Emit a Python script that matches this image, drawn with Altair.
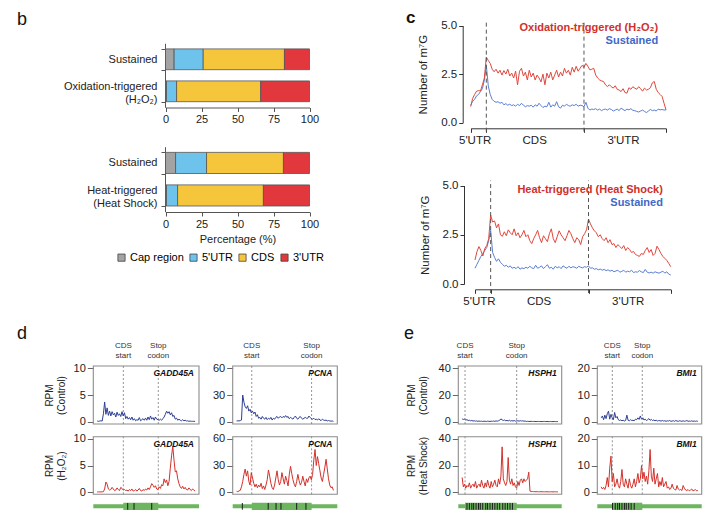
import altair as alt
import pandas as pd

FONT = "Liberation Sans"
W, H = 713, 525

# ---------------- panel b : distribution of m7G sites (%) ----------------
regions = ["Cap region", "5'UTR", "CDS", "3'UTR"]
region_colors = ["#a3a3a3", "#6ec3ec", "#f5c63b", "#e2373d"]

b_top_groups = ["Sustained", "Oxidation-triggered\n(H₂O₂)"]
b_top_sustained = [6.0, 20.2, 56.4, 17.4]
b_top_oxidation = [0.7, 7.0, 58.4, 33.9]

b_bot_groups = ["Sustained", "Heat-triggered\n(Heat Shock)"]
b_bot_sustained = [7.0, 21.5, 53.4, 18.1]
b_bot_heat = [0.7, 7.7, 59.6, 32.0]

# ---------------- panel c : metagene profiles ----------------
meta_bins = list(range(0, 201, 2))
meta_bounds = [16, 116]
meta_region_labels = ["5'UTR", "CDS", "3'UTR"]
meta_region_centers = [4, 65, 156]

c_top_oxidation = [
    0.83, 1.25, 1.45, 1.62, 1.65, 1.63, 1.95, 2.30, 3.38, 3.20,
    3.05, 2.75, 2.62, 2.75, 2.55, 2.70, 2.45, 2.68, 2.50, 2.75,
    2.40, 2.55, 2.30, 2.65, 1.95, 2.65, 2.80, 2.40, 2.60, 2.20,
    2.70, 2.35, 2.55, 2.20, 2.45, 2.30, 2.10, 2.50, 1.95, 2.55,
    2.30, 2.60, 2.20, 2.45, 2.70, 2.35, 2.60, 2.40, 2.80, 2.55,
    2.70, 2.45, 2.85, 2.60, 2.90, 2.65, 2.80, 2.95, 2.85, 3.05,
    2.90, 2.72, 2.75, 2.80, 2.45, 2.30, 2.20, 2.15, 2.12, 1.95,
    1.86, 1.95, 1.85, 1.78, 1.90, 1.72, 1.68, 1.60, 1.75, 1.55,
    1.52, 1.80, 1.72, 1.85, 1.78, 1.72, 1.85, 1.75, 1.62, 1.78,
    1.68, 1.72, 1.80, 2.05, 2.12, 1.72, 1.55, 1.45, 1.35, 1.00,
    0.66]
c_top_sustained = [
    0.90, 1.10, 1.20, 1.38, 1.45, 1.60, 1.75, 2.20, 2.95, 1.90,
    1.45, 1.20, 1.10, 1.05, 1.08, 1.00, 1.05, 0.92, 0.98, 0.90,
    0.95, 0.88, 0.92, 0.85, 0.95, 0.88, 1.00, 0.90, 0.82, 0.88,
    0.85, 0.90, 0.80, 0.92, 0.85, 1.00, 0.88, 0.78, 0.85, 0.82,
    1.05, 0.80, 0.92, 0.85, 1.08, 0.82, 0.75, 0.90, 0.85, 0.95,
    0.88, 0.85, 0.92, 0.88, 0.95, 0.85, 0.90, 0.88, 0.82, 1.05,
    0.75, 0.65, 0.70, 0.68, 0.72, 0.65, 0.70, 0.62, 0.68, 0.70,
    0.65, 0.72, 0.68, 0.60, 0.65, 0.70, 0.62, 0.75, 0.68, 0.62,
    0.70, 0.66, 0.72, 0.64, 0.62, 0.58, 0.55, 0.60, 0.65, 0.58,
    0.52, 0.60, 0.68, 0.62, 0.65, 0.60, 0.70, 0.66, 0.68, 0.65,
    0.66]
c_bot_heat = [
    1.22, 1.64, 1.90, 1.70, 1.42, 1.80, 1.95, 2.30, 3.50, 3.15,
    3.20, 2.85, 3.05, 2.50, 2.42, 2.65, 2.45, 2.75, 2.60, 2.50,
    2.80, 2.45, 2.60, 2.35, 2.50, 2.72, 2.40, 2.50, 2.20, 2.05,
    2.30, 2.50, 2.72, 2.35, 2.10, 2.45, 2.30, 2.15, 2.55, 2.80,
    2.30, 2.10, 2.40, 2.70, 2.50, 2.35, 2.20, 2.45, 2.72, 2.55,
    2.30, 2.10, 2.35, 2.25, 2.00, 2.40, 2.55, 2.75, 3.30, 3.05,
    2.85, 2.70, 2.60, 2.40, 2.50, 2.30, 2.20, 2.35, 2.10, 2.25,
    2.00, 2.05, 1.85, 2.00, 1.90, 1.80, 1.95, 1.70, 1.85, 1.75,
    1.60, 1.65, 1.50, 1.45, 1.40, 1.55, 1.50, 1.70, 1.85, 1.60,
    1.75, 1.45, 1.55, 1.92, 1.75, 1.55, 1.40, 1.30, 1.20, 1.05,
    0.88]
c_bot_sustained = [
    0.80, 1.00, 1.20, 1.40, 1.55, 1.70, 1.85, 2.20, 2.72, 1.60,
    1.35, 1.15, 1.28, 1.10, 1.00, 0.90, 0.95, 0.85, 0.92, 0.80,
    0.85, 0.78, 0.88, 0.75, 0.82, 0.78, 0.85, 0.80, 0.90, 0.82,
    0.78, 0.95, 0.80, 0.85, 0.92, 0.78, 0.88, 0.98, 0.80, 0.85,
    0.75, 0.90, 0.82, 0.88, 0.78, 0.92, 0.85, 0.80, 0.90, 0.82,
    0.88, 0.85, 0.80, 0.90, 0.85, 0.82, 0.88, 0.85, 0.92, 0.80,
    0.82, 0.75, 0.78, 0.72, 0.76, 0.70, 0.74, 0.68, 0.72, 0.65,
    0.70, 0.62, 0.66, 0.70, 0.60, 0.64, 0.70, 0.60, 0.65, 0.62,
    0.70, 0.58, 0.62, 0.60, 0.68, 0.62, 0.58, 0.74, 0.60, 0.56,
    0.60, 0.55, 0.62, 0.58, 0.55, 0.60, 0.65, 0.55, 0.62, 0.50,
    0.46]

# ---------------- panels d / e : per-gene read coverage (RPM) ----------------
track_pos = list(range(80))
track_xdom = [-3.16, 82.16]

gadd45a_control = [
    0.15, 0.10, 0.15, 0.20, 0.15, 1.50, 3.70, 1.40, 2.60, 1.20,
    2.00, 1.10, 1.90, 1.30, 1.60, 0.90, 1.80, 1.20, 1.50, 1.00,
    1.90, 1.10, 1.70, 0.60, 1.00, 0.50, 0.80, 0.40, 0.90, 0.30,
    0.60, 0.20, 0.40, 0.30, 0.80, 0.20, 0.40, 0.60, 0.30, 0.70,
    0.30, 0.90, 0.40, 1.10, 0.50, 0.80, 0.30, 0.90, 0.50, 0.40,
    0.30, 0.50, 0.30, 0.60, 0.90, 1.40, 2.00, 1.60, 1.90, 1.30,
    1.70, 1.00, 1.20, 0.50, 0.70, 0.30, 0.50, 0.30, 0.20, 0.40,
    0.20, 0.30, 0.15, 0.20, 0.10, 0.15, 0.10, 0.10, 0.10, 0.10]
gadd45a_h2o2 = [
    0.05, 0.05, 0.05, 0.05, 0.05, 0.10, 0.60, 1.90, 1.50, 0.60,
    0.40, 0.50, 0.90, 0.60, 0.30, 0.40, 0.80, 0.50, 0.30, 0.90,
    0.70, 0.40, 0.50, 0.30, 0.40, 0.20, 0.50, 0.30, 0.60, 0.20,
    0.30, 0.50, 0.20, 0.40, 0.70, 0.30, 0.20, 0.50, 0.30, 0.60,
    0.40, 0.80, 0.50, 1.00, 1.60, 1.30, 0.90, 1.20, 0.60, 0.50,
    1.00, 0.70, 1.40, 1.20, 2.50, 1.80, 2.30, 1.20, 2.00, 4.50,
    6.80, 8.60, 6.00, 3.80, 4.00, 2.50, 1.60, 1.00, 0.70, 1.10,
    0.60, 0.90, 0.50, 0.40, 0.80, 0.50, 0.30, 0.60, 0.40, 0.20]
pcna_control = [
    1.0, 1.2, 1.0, 1.5, 2.0, 30, 22, 17, 15, 18,
    12, 14, 10, 12, 9, 11, 6, 8, 4, 5,
    3, 6, 4, 3, 5, 2.5, 4, 3, 5, 2,
    4, 3, 5, 6, 4, 5.5, 6, 4.5, 6, 5,
    7, 5, 6, 3.5, 5, 4, 3, 5, 6.5, 4,
    3, 5, 6, 4, 3, 4, 5, 4, 4, 6.5,
    5, 3.5, 3, 4, 2.5, 3, 2, 3.5, 2, 1.5,
    3, 2, 1.5, 2, 1, 1.5, 1, 0.8, 1, 0.5]
pcna_h2o2 = [
    1, 0.5, 1.5, 2, 6, 12, 20, 26, 18, 24,
    12, 8, 22, 16, 10, 6, 9, 5, 8, 6,
    10, 4, 7, 3, 8, 14, 25, 18, 10, 5,
    3, 8, 16, 24, 14, 8, 12, 22, 15, 9,
    18, 13, 7, 20, 29, 21, 14, 9, 6, 12,
    20, 13, 8, 11, 18, 12, 7, 15, 11, 16,
    18, 14, 20, 36, 48, 30, 40, 32, 24, 16,
    12, 20, 28, 37, 26, 15, 8, 5, 6, 2]
hsph1_control = [
    2.2, 1.8, 2.0, 1.4, 1.6, 1.0, 1.2, 0.8, 1.0, 0.6,
    0.8, 0.5, 0.7, 0.4, 0.6, 0.4, 0.5, 0.3, 0.5, 0.4,
    0.3, 0.5, 0.4, 0.3, 0.5, 0.4, 0.6, 0.4, 0.7, 0.5,
    0.8, 1.2, 2.2, 1.5, 1.0, 1.4, 0.8, 1.1, 0.7, 1.2,
    0.6, 0.9, 0.6, 1.0, 0.5, 0.7, 0.8, 0.5, 0.9, 0.6,
    0.8, 0.5, 0.6, 0.3, 0.4, 0.3, 0.3, 0.4, 0.3, 0.3,
    0.3, 0.2, 0.3, 0.3, 0.2, 0.3, 0.2, 0.3, 0.3, 0.2,
    0.3, 0.2, 0.2, 0.3, 0.2, 0.2, 0.3, 0.2, 0.2, 0.2]
hsph1_heat = [
    11, 4, 6, 3, 5, 4, 7, 3, 5, 6,
    4, 8, 3, 5, 6, 4, 9, 5, 3, 7,
    4, 9, 5, 3, 8, 4, 6, 9, 5, 4,
    10, 6, 12, 34, 10, 7, 5, 8, 26, 9,
    6, 10, 5, 7, 4, 3, 8, 5, 9, 10,
    7, 10, 8, 9, 10, 15, 0.8, 0.5, 0.5, 0.4,
    0.4, 0.3, 0.4, 0.3, 0.3, 0.4, 0.3, 0.3, 0.3, 0.3,
    0.3, 0.3, 0.2, 0.3, 0.3, 0.2, 0.3, 0.3, 0.2, 0.3]
bmi1_control = [
    1.5, 2.2, 0.8, 2.5, 1.2, 3.0, 4.0, 1.0, 2.8, 1.5,
    0.8, 3.5, 1.5, 2.0, 0.8, 0.5, 0.7, 0.4, 0.6, 0.3,
    0.5, 2.5, 0.6, 0.4, 0.8, 0.5, 0.6, 0.4, 1.0, 0.8,
    1.5, 0.9, 2.2, 1.0, 1.5, 0.7, 1.0, 0.5, 0.8, 1.2,
    0.6, 0.9, 0.5, 0.7, 0.4, 0.6, 0.3, 0.5, 0.4, 0.3,
    0.5, 0.3, 0.4, 0.2, 0.4, 0.3, 0.5, 0.2, 0.3, 0.4,
    0.2, 0.5, 0.3, 0.2, 0.4, 0.3, 0.2, 0.4, 0.2, 0.3,
    0.5, 0.2, 0.3, 0.2, 0.4, 0.2, 0.3, 0.2, 0.3, 0.2]
bmi1_heat = [
    2, 1.2, 1.8, 1.0, 2.5, 5.5, 2.0, 9, 13.5, 4,
    7, 2, 3, 5, 2.5, 1.5, 4, 8.5, 3, 2,
    5, 3, 1.5, 5, 2.5, 1.5, 3, 5, 2, 4,
    7, 3.5, 5, 10, 5, 7.5, 4, 6, 3, 8,
    16, 6, 4, 9, 3, 5, 7, 2, 4, 2.5,
    5.5, 2, 3, 4, 1.5, 2, 1, 1.5, 3, 1.5,
    1, 0.8, 2.5, 1.2, 0.8, 1, 0.6, 2.5, 1.5, 0.8,
    0.6, 1, 0.5, 0.8, 1.2, 0.5, 0.7, 1.0, 0.5, 0.6]

# CDS start / stop codon and exon junctions (track coordinates)
gadd45a_cds = [21.1, 49.3]
gadd45a_junctions = [24.6, 29.7, 44.0]
pcna_cds = [12.4, 61.2]
pcna_junctions = [4.7, 25.8, 32.2, 36.2, 49.0, 56.6]
hsph1_cds = [2.4, 45.0]
hsph1_junctions = [4.0, 6.0, 8.0, 9.5, 11.5, 13.5, 15.0, 17.0, 19.5, 21.0, 23.0,
                   25.0, 27.0, 29.0, 31.0, 33.5, 35.5, 37.5, 39.5, 41.5]
bmi1_cds = [9.1, 33.6]
bmi1_junctions = [9.3, 11.5, 13.5, 15.0, 17.0, 19.0, 20.5, 22.5, 24.5, 27.0]

RED_LINE = "#e0473d"
BLUE_LINE = "#5a7ed3"
RED_TEXT = "#d0302b"
BLUE_TEXT = "#4068c8"
CTRL = "#2e3f95"
TREAT = "#d3312a"
GREEN = "#6db55e"


def lin(dom, rng):
    return alt.Scale(domain=dom, range=rng, nice=False, zero=False)


# ---------------- builders (each returns a list of unit charts) ----------------
def bar_panel(groups, series, xr, yr, x_axis_y, xtitle):
    rows = []
    for g, vals in zip(groups, series):
        for k, (r, v) in enumerate(zip(regions, vals)):
            rows.append({"group": g, "region": r, "pct": v, "ord": k})
    df = pd.DataFrame(rows)
    xs = lin([0, 100], xr)
    ys = alt.Scale(domain=groups, range=yr, paddingInner=0.35, paddingOuter=0.175)
    xaxis_kw = dict(orient="bottom", offset=x_axis_y - H, values=[0, 25, 50, 75, 100],
                    tickSize=4, labelPadding=2, labelFontSize=11, labelFlush=False,
                    domainColor="#555", tickColor="#555", title=xtitle)
    if xtitle:
        xaxis_kw.update(titlePadding=4, titleFontSize=11)
    yaxis = alt.Axis(orient="left", offset=-xr[0] + 0.5, tickBand="extent", tickSize=4,
                     labelPadding=4, labelFontSize=11, labelLineHeight=13,
                     labelExpr="split(datum.label, '\\n')",
                     labelOffset={"condition": {"test": "indexof(datum.label, '\\n') >= 0",
                                                "value": -4.5}, "value": 0},
                     domainColor="#555", tickColor="#555", title=None)
    legend = alt.Legend(orient="none", legendX=116, legendY=252, direction="horizontal",
                        title=None, symbolType="square", symbolSize=52,
                        symbolStrokeColor="#444", symbolStrokeWidth=0.8,
                        labelFontSize=11, labelOffset=3, columnPadding=4, padding=0)
    return [alt.Chart(df).mark_bar(stroke="#555", strokeWidth=0.8).encode(
        x=alt.X("pct:Q", stack="zero", scale=xs, axis=alt.Axis(**xaxis_kw)),
        y=alt.Y("group:N", scale=ys, axis=yaxis),
        color=alt.Color("region:N", scale=alt.Scale(domain=regions, range=region_colors),
                        legend=legend),
        order=alt.Order("ord:Q", sort="ascending"),
    )]


def meta_panel(red, blue, red_label, xr, yr, x_axis_y, y_axis_x, label_x, label_y):
    xs = lin([0, 200], xr)
    ys = lin([0, 5], yr)
    df = pd.DataFrame({"bin": meta_bins, "red": red, "blue": blue})
    label_expr = " : ".join(f'datum.value == {c} ? "{l}"'
                            for c, l in zip(meta_region_centers, meta_region_labels)) + " : ''"
    tick_test = " || ".join(f"datum.value == {c}" for c in meta_region_centers)
    tick_values = sorted([0, 200] + meta_bounds + meta_region_centers)
    xaxis = alt.Axis(orient="bottom", offset=x_axis_y - H, values=tick_values,
                     labelExpr=label_expr,
                     tickOpacity={"condition": {"test": tick_test, "value": 0}, "value": 1},
                     labelOverlap=False, labelFlush=False, tickSize=4, labelPadding=2,
                     labelFontSize=11.5, title=None, domainColor="#333", tickColor="#333")
    yaxis = alt.Axis(orient="left", offset=-y_axis_x, values=[0, 2.5, 5], format=".1f",
                     tickSize=4, labelPadding=2, labelFontSize=11.5, title="Number of m⁷G",
                     titlePadding=12, titleFontSize=11.5, domainColor="#333", tickColor="#333")
    blue_line = alt.Chart(df).mark_line(color=BLUE_LINE, strokeWidth=1).encode(
        x=alt.X("bin:Q", scale=xs, axis=xaxis), y=alt.Y("blue:Q", scale=ys, axis=yaxis))
    red_line = alt.Chart(df).mark_line(color=RED_LINE, strokeWidth=1).encode(
        x=alt.X("bin:Q", scale=xs, axis=None), y=alt.Y("red:Q", scale=ys, axis=None))
    bdf = pd.DataFrame({"pos": meta_bounds, "y0": [-0.46] * 2, "y1": [5.25] * 2})
    rules = alt.Chart(bdf).mark_rule(color="#555", strokeDash=[4, 3], strokeWidth=1).encode(
        x=alt.X("pos:Q", scale=xs, axis=None), y=alt.Y("y0:Q", scale=ys, axis=None), y2="y1:Q")
    ldf = pd.DataFrame({"x": [label_x, label_x], "y": label_y, "t": [red_label, "Sustained"]})
    t_red = alt.Chart(ldf.iloc[[0]]).mark_text(align="right", baseline="middle", fontSize=11,
                                               fontWeight="bold", color=RED_TEXT).encode(
        x=alt.X("x:Q", scale=xs, axis=None), y=alt.Y("y:Q", scale=ys, axis=None), text="t:N")
    t_blue = alt.Chart(ldf.iloc[[1]]).mark_text(align="right", baseline="middle", fontSize=11,
                                                fontWeight="bold", color=BLUE_TEXT).encode(
        x=alt.X("x:Q", scale=xs, axis=None), y=alt.Y("y:Q", scale=ys, axis=None), text="t:N")
    return [blue_line, red_line, rules, t_red, t_blue]


def track_panel(values, color, xr, yr, ydom, yticks, gene, cds, junctions=None,
                title=None, title_pad=7, annotate=False):
    xs = lin(track_xdom, xr)
    ys = lin(ydom, yr)
    line_df = pd.DataFrame({"pos": track_pos, "rpm": values})
    frame_df = pd.DataFrame({"x0": [track_xdom[0]], "x1": [track_xdom[1]],
                             "y0": [ydom[0]], "y1": [ydom[1]], "gene": [gene]})
    mark_df = pd.DataFrame({"pos": cds, "y0": [ydom[0]] * 2, "y1": [ydom[1]] * 2,
                            "lab": ["CDS\nstart", "Stop\ncodon"]})
    axis_kw = dict(orient="left", offset=-xr[0], values=yticks, domain=False, tickSize=6,
                   tickColor="#666", labelPadding=2, labelFontSize=11, title=title)
    if title:
        axis_kw.update(titlePadding=title_pad, titleFontSize=10, titleLineHeight=12)
    frame = alt.Chart(frame_df).mark_rect(fillOpacity=0, stroke="#8c8c8c", strokeWidth=1.1).encode(
        x=alt.X("x0:Q", scale=xs, axis=None), x2="x1:Q",
        y=alt.Y("y0:Q", scale=ys, axis=alt.Axis(**axis_kw)), y2="y1:Q")
    rules = alt.Chart(mark_df).mark_rule(color="#7a7a7a", strokeDash=[2, 2], strokeWidth=0.8).encode(
        x=alt.X("pos:Q", scale=xs, axis=None), y=alt.Y("y0:Q", scale=ys, axis=None), y2="y1:Q")
    line = alt.Chart(line_df).mark_line(color=color, strokeWidth=1).encode(
        x=alt.X("pos:Q", scale=xs, axis=None), y=alt.Y("rpm:Q", scale=ys, axis=None))
    name = alt.Chart(frame_df).mark_text(align="right", baseline="top", dx=-5, dy=3, fontSize=8.5,
                                         fontStyle="italic", fontWeight="bold", color="#111").encode(
        x=alt.X("x1:Q", scale=xs, axis=None), y=alt.Y("y1:Q", scale=ys, axis=None), text="gene:N")
    layers = [frame, rules, line, name]
    if annotate:
        layers.append(alt.Chart(mark_df).mark_text(baseline="bottom", dy=-16, fontSize=8, lineHeight=10,
                                                   lineBreak="\n", color="#333").encode(
            x=alt.X("pos:Q", scale=xs, axis=None), y=alt.Y("y1:Q", scale=ys, axis=None), text="lab:N"))
    if junctions is not None:
        mdf = pd.DataFrame({"x0": [track_xdom[0]], "x1": [track_xdom[1]], "c0": [cds[0]], "c1": [cds[1]]})
        layers.append(alt.Chart(mdf).mark_rect(color=GREEN).encode(
            x=alt.X("x0:Q", scale=xs, axis=None), x2="x1:Q", y=alt.value(504.3), y2=alt.value(508.3)))
        layers.append(alt.Chart(mdf).mark_rect(color=GREEN).encode(
            x=alt.X("c0:Q", scale=xs, axis=None), x2="c1:Q", y=alt.value(502.7), y2=alt.value(510)))
        layers.append(alt.Chart(pd.DataFrame({"pos": junctions})).mark_rule(color="#1b1b1b", strokeWidth=1).encode(
            x=alt.X("pos:Q", scale=xs, axis=None), y=alt.value(503), y2=alt.value(509.7)))
    return layers


def letter(t, x, y, bold=False, size=18):
    return [alt.Chart(pd.DataFrame({"t": [t]})).mark_text(
        align="left", baseline="alphabetic", fontSize=size,
        fontWeight="bold" if bold else "normal", color="#111").encode(
        x=alt.value(x), y=alt.value(y), text="t:N")]


CTRL_Y = [424, 366]
TREAT_Y = [494.3, 436.7]

units = []
units += bar_panel(b_top_groups, [b_top_sustained, b_top_oxidation], [165.5, 309.5], [43.3, 107.3], 107.5, None)
units += bar_panel(b_bot_groups, [b_bot_sustained, b_bot_heat], [165.5, 309.5], [146.7, 211.7], 212, "Percentage (%)")
units += meta_panel(c_top_oxidation, c_top_sustained, "Oxidation-triggered (H₂O₂)",
                    [470.7, 666], [122.7, 25.5], 128.3, 462.7, 192, [4.85, 4.2])
units += meta_panel(c_bot_heat, c_bot_sustained, "Heat-triggered (Heat Shock)",
                    [475, 670.7], [284, 185.5], 289.3, 464, 192, [4.77, 4.13])
units += track_panel(gadd45a_control, CTRL, [93.3, 199], CTRL_Y, [-0.4, 10.4], [0, 5, 10], "GADD45A",
                     gadd45a_cds, title=["RPM", "(Control)"], title_pad=7, annotate=True)
units += track_panel(gadd45a_h2o2, TREAT, [93.3, 199], TREAT_Y, [-0.4, 10.4], [0, 5, 10], "GADD45A",
                     gadd45a_cds, junctions=gadd45a_junctions, title=["RPM", "(H₂O₂)"], title_pad=7)
units += track_panel(pcna_control, CTRL, [232.7, 337.3], CTRL_Y, [-2.4, 62.4], [0, 30, 60], "PCNA",
                     pcna_cds, annotate=True)
units += track_panel(pcna_h2o2, TREAT, [232.7, 337.3], TREAT_Y, [-2.4, 62.4], [0, 30, 60], "PCNA",
                     pcna_cds, junctions=pcna_junctions)
units += track_panel(hsph1_control, CTRL, [458.3, 561.7], CTRL_Y, [-1.6, 41.6], [0, 20, 40], "HSPH1",
                     hsph1_cds, title=["RPM", "(Control)"], title_pad=10, annotate=True)
units += track_panel(hsph1_heat, TREAT, [458.3, 561.7], TREAT_Y, [-1.6, 41.6], [0, 20, 40], "HSPH1",
                     hsph1_cds, junctions=hsph1_junctions, title=["RPM", "(Heat Shock)"], title_pad=10)
units += track_panel(bmi1_control, CTRL, [597.3, 701.7], CTRL_Y, [-0.8, 20.8], [0, 10, 20], "BMI1",
                     bmi1_cds, annotate=True)
units += track_panel(bmi1_heat, TREAT, [597.3, 701.7], TREAT_Y, [-0.8, 20.8], [0, 10, 20], "BMI1",
                     bmi1_cds, junctions=bmi1_junctions)
units += letter("b", 17, 25)
units += letter("c", 406, 23, bold=True, size=17)
units += letter("d", 17, 339)
units += letter("e", 404, 339)

chart = alt.layer(*units).resolve_scale(x="independent", y="independent").properties(
    width=W, height=H, padding=0, autosize=alt.AutoSizeParams(type="none")
).configure(font=FONT).configure_view(stroke=None).configure_axis(
    grid=False, labelColor="#222", titleColor="#222", titleFontWeight="normal",
    minExtent=0, domainWidth=1, tickWidth=1
)

chart.save("out.html", embed_options={"renderer": "svg", "actions": False})
